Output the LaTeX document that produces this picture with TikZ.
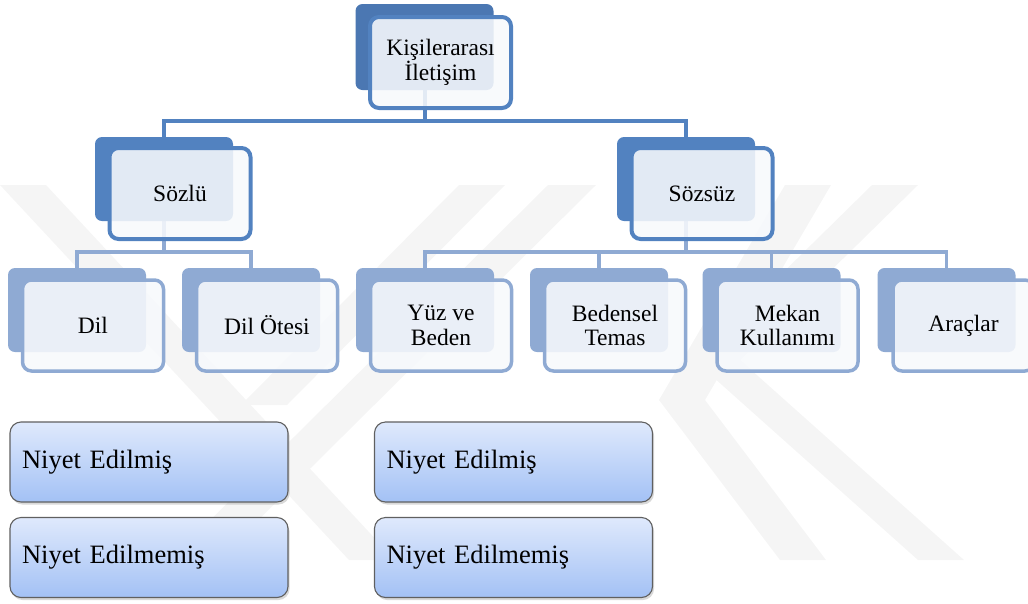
\documentclass[tikz,border=0pt]{standalone}
\usepackage{fontspec}
\setmainfont{Liberation Serif}
\usetikzlibrary{shadows}
\pgfdeclarelayer{mark}
\pgfdeclarelayer{wires}
\pgfsetlayers{mark,wires,main}
\definecolor{deepblue}{HTML}{4B77B2}
\definecolor{midblue}{HTML}{5282C0}
\definecolor{paleblue}{HTML}{8FAAD3}
\definecolor{paneltint}{HTML}{F7F9FC}
\definecolor{gradtop}{HTML}{DFE9FC}
\definecolor{gradbot}{HTML}{A3C1F5}
\definecolor{edgegray}{HTML}{606060}
\definecolor{markgray}{HTML}{F5F5F5}

\begin{document}
\begin{tikzpicture}[x=1pt,y=-1pt,
  back/.style={rounded corners=7pt, inner sep=0pt, minimum width=138pt, minimum height=84pt},
  backtop/.style={back, fill=deepblue, minimum height=86pt},
  backmid/.style={back, fill=midblue},
  backlow/.style={back, fill=paleblue},
  front/.style={rounded corners=9pt, line width=4pt, fill=paneltint, fill opacity=0.88,
    text opacity=1, minimum width=141pt, minimum height=91pt, align=center, inner sep=2pt,
    font=\fontsize{23.5}{24.5}\selectfont},
  fronttop/.style={front, draw=midblue},
  frontlow/.style={front, draw=paleblue, line width=3.5pt},
  link/.style={line width=4pt, draw=midblue},
  sublink/.style={line width=3.5pt, draw=paleblue},
  intent/.style={rounded corners=11pt, draw=edgegray, line width=1.1pt,
    top color=gradtop, bottom color=gradbot,
    drop shadow={opacity=0.3, shadow xshift=1.5pt, shadow yshift=-2.5pt},
    text width=254pt, inner xsep=12pt, minimum height=80pt, align=left,
    font=\fontsize{26.5}{28}\selectfont}
]
\useasboundingbox (0,0) rectangle (1028,603);

% faint background emblem
\begin{pgfonlayer}{mark}
  \fill[markgray] (0,185) -- (46,185) -- (395,560) -- (349,560) -- cycle;
  \fill[markgray] (459,185) -- (505,185) -- (287,405) -- (241,405) -- cycle;
  \fill[markgray] (548,185) -- (596,185) -- (218,560) -- (170,560) -- cycle;
  \fill[markgray] (785,185) -- (831,185) -- (705,400) -- (659,400) -- cycle;
  \fill[markgray] (659,400) -- (705,400) -- (826,560) -- (780,560) -- cycle;
  \fill[markgray] (872,185) -- (918,185) -- (740,360) -- (694,360) -- cycle;
  \fill[markgray] (694,360) -- (740,360) -- (964,560) -- (918,560) -- cycle;
\end{pgfonlayer}

% root
\node[backtop] (kb) at (424.5,47) {};
\node[fronttop] (k) at (440.5,62.5) {Kişilerarası\\İletişim};

% first level
\node[backmid] (sb) at (164,179) {};
\node[fronttop] (s) at (180,193.5) {Sözlü};
\node[backmid] (zb) at (686,179) {};
\node[fronttop] (z) at (702,193.5) {Sözsüz};

% second level
\node[backlow] (db) at (77,310) {};
\node[frontlow] (d) at (93,325.5) {Dil};
\node[backlow] (ob) at (251,310) {};
\node[frontlow] (o) at (267,325.5) {Dil Ötesi};
\node[backlow] (yb) at (425,310) {};
\node[frontlow] (y) at (441,325.5) {Yüz ve\\Beden};
\node[backlow] (bb) at (599,310) {};
\node[frontlow] (b) at (615,325.5) {Bedensel\\Temas};
\node[backlow] (mb) at (771.5,310) {};
\node[frontlow] (m) at (787.5,325.5) {Mekan\\Kullanımı};
\node[backlow] (ab) at (946.5,310) {};
\node[frontlow] (a) at (963.5,325.5) {Araçlar};

% intention boxes
\node[intent] (n1) at (149,462) {Niyet Edilmiş};
\node[intent] (n2) at (149,557.5) {Niyet Edilmemiş};
\node[intent] (n3) at (513.5,462) {Niyet Edilmiş};
\node[intent] (n4) at (513.5,557.5) {Niyet Edilmemiş};

% connectors
\begin{pgfonlayer}{wires}
  \draw[link] (kb.south) -- (kb.south |- 0,121);
  \draw[link] (sb.north) -- (sb.north |- 0,121) -- (zb.north |- 0,121) -- (zb.north);
  \draw[sublink] (sb.south) -- (sb.south |- 0,252);
  \draw[sublink] (db.north) -- (db.north |- 0,252) -- (ob.north |- 0,252) -- (ob.north);
  \draw[sublink] (zb.south) -- (zb.south |- 0,252);
  \draw[sublink] (yb.north) -- (yb.north |- 0,252) -- (ab.north |- 0,252) -- (ab.north);
  \draw[sublink] (bb.north) -- (bb.north |- 0,252);
  \draw[sublink] (mb.north) -- (mb.north |- 0,252);
\end{pgfonlayer}
\end{tikzpicture}
\end{document}
